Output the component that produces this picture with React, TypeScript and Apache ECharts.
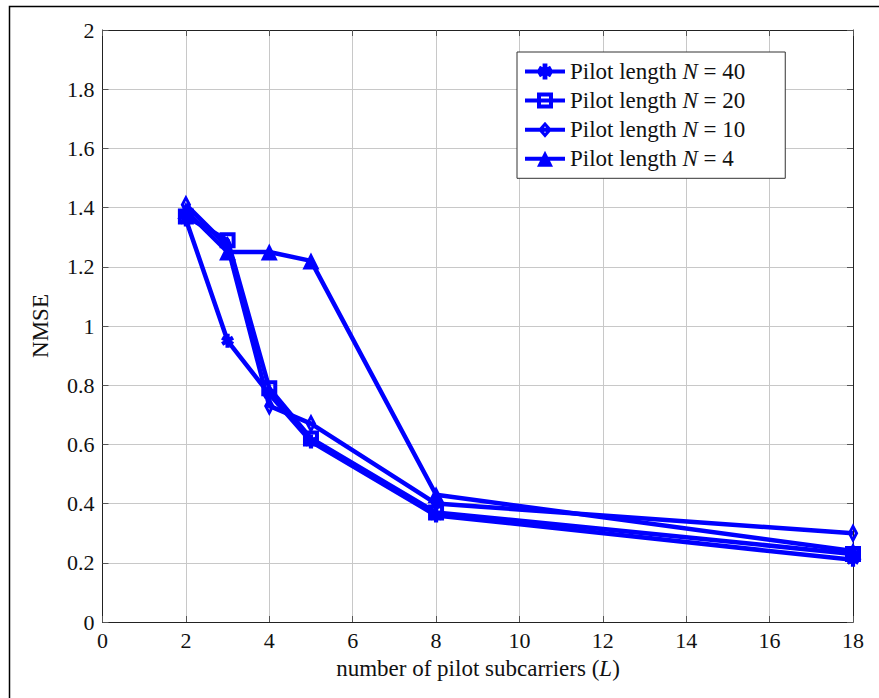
import React, { useEffect, useRef } from "react";
import * as echarts from "echarts";

// Number of pilot subcarriers (L) on the x axis
const pilotSubcarriers = [2, 3, 4, 5, 8, 18];

// NMSE for each pilot length N
const nmseN40 = [1.36, 0.95, 0.77, 0.61, 0.36, 0.21];
const nmseN20 = [1.37, 1.29, 0.79, 0.62, 0.37, 0.23];
const nmseN10 = [1.41, 1.27, 0.73, 0.67, 0.4, 0.3];
const nmseN4 = [1.39, 1.25, 1.25, 1.22, 0.43, 0.24];

const pilotLengths = [40, 20, 10, 4];

// Axis ranges and tick spacing
const xMin = 0;
const xMax = 18;
const xStep = 2;
const yMin = 0;
const yMax = 2;
const yStep = 0.2;

const FONT = "Liberation Serif";
const FS = 22;
const FS_NAME = 23;
const BLUE = "#0000ff";

// Plot markers (hollow square / hollow diamond let the line show inside)
const ASTERISK =
  "path://M7,0 L13,0 L13,20 L7,20 Z M0.71,8.1 L3.71,2.9 L19.29,11.9 L16.29,17.1 Z M0.71,11.9 L16.29,2.9 L19.29,8.1 L3.71,17.1 Z";
const HOLLOW_SQUARE = "path://M0,0 L16,0 L16,16 L0,16 Z M4,4 L4,12 L12,12 L12,4 Z";
const HOLLOW_DIAMOND = "path://M7,0 L14,10 L7,20 L0,10 Z M7,6 L4.6,10 L7,14 L9.4,10 Z";

// Legend icons: a thick line segment with the marker on top (40 x 16 box)
const BAR = "M0,6 L40,6 L40,10 L0,10 Z";
const LEGEND_ICONS = [
  `path://${BAR} M17.6,0 L22.4,0 L22.4,16 L17.6,16 Z M12.57,6.48 L14.97,2.32 L27.43,9.52 L25.03,13.68 Z M12.57,9.52 L25.03,2.32 L27.43,6.48 L14.97,13.68 Z`,
  `path://${BAR} M12,0 L28,0 L28,16 L12,16 Z M16,4 L16,12 L24,12 L24,4 Z`,
  `path://${BAR} M20,0 L27,8 L20,16 L13,8 Z M20,4.5 L17.8,8 L20,11.5 L22.2,8 Z`,
  `path://${BAR} M20,0 L28,16 L12,16 Z`,
];

const seriesData = [nmseN40, nmseN20, nmseN10, nmseN4];
const symbols = [ASTERISK, HOLLOW_SQUARE, HOLLOW_DIAMOND, "triangle"];
const symbolSizes: (number | number[])[] = [14, 16, [15, 20], 17];

const nameOf = (n: number) => `Pilot length N = ${n}`;

export default function App() {
  const ref = useRef<HTMLDivElement>(null);

  useEffect(() => {
    if (!ref.current) return;
    const chart = echarts.init(ref.current, undefined, { renderer: "svg" });

    const tickStyle = { show: true, inside: true, length: 6, lineStyle: { color: "#555", width: 1 } };
    const frameLine = { show: true, onZero: false, lineStyle: { color: "#222", width: 1 } };
    const gridLine = { show: true, lineStyle: { color: "#c8c8c8", width: 1 } };
    const labelStyle = { fontFamily: FONT, fontSize: FS, color: "#111" };

    const series = pilotLengths.map((n, i) => ({
      name: nameOf(n),
      type: "line",
      xAxisIndex: 0,
      yAxisIndex: 0,
      data: pilotSubcarriers.map((x, j) => [x, seriesData[i][j]]),
      symbol: symbols[i],
      symbolSize: symbolSizes[i],
      symbolKeepAspect: true,
      showAllSymbol: true,
      lineStyle: { color: BLUE, width: 4.5 },
      itemStyle: { color: BLUE, borderWidth: 0, opacity: 1 },
      z: 2 + i,
    }));

    chart.setOption({
      animation: false,
      backgroundColor: "#fff",
      grid: { left: 102.5, top: 30, right: 26, bottom: 76, containLabel: false },
      xAxis: [
        {
          type: "value",
          min: xMin,
          max: xMax,
          interval: xStep,
          position: "bottom",
          axisLine: frameLine,
          axisTick: tickStyle,
          axisLabel: { ...labelStyle, margin: 7 },
          splitLine: gridLine,
        },
        {
          type: "value",
          min: xMin,
          max: xMax,
          interval: xStep,
          position: "top",
          axisLine: frameLine,
          axisTick: tickStyle,
          axisLabel: { show: false },
          splitLine: { show: false },
        },
      ],
      yAxis: [
        {
          type: "value",
          min: yMin,
          max: yMax,
          interval: yStep,
          position: "left",
          axisLine: frameLine,
          axisTick: tickStyle,
          axisLabel: { ...labelStyle, margin: 8 },
          splitLine: gridLine,
        },
        {
          type: "value",
          min: yMin,
          max: yMax,
          interval: yStep,
          position: "right",
          axisLine: frameLine,
          axisTick: tickStyle,
          axisLabel: { show: false },
          splitLine: { show: false },
        },
      ],
      legend: {
        orient: "vertical",
        left: 517,
        top: 52,
        padding: [8, 40, 8, 8],
        itemWidth: 40,
        itemHeight: 16,
        itemGap: 6.1,
        borderColor: "#333",
        borderWidth: 1,
        backgroundColor: "#fff",
        data: pilotLengths.map((n, i) => ({
          name: nameOf(n),
          icon: LEGEND_ICONS[i],
          itemStyle: { color: BLUE, borderWidth: 0 },
        })),
        formatter: (name: string) => {
          const n = name.split("= ")[1];
          return `{a|Pilot length }{i|N}{a| = ${n}}`;
        },
        textStyle: {
          fontFamily: FONT,
          fontSize: FS_NAME,
          color: "#111",
          rich: {
            a: { fontFamily: FONT, fontSize: FS_NAME, lineHeight: 24, color: "#111" },
            i: { fontFamily: FONT, fontSize: FS_NAME, lineHeight: 24, fontStyle: "italic", color: "#111" },
          },
        },
      },
      graphic: [
        {
          type: "rect",
          silent: true,
          shape: { x: 9.5, y: 6.5, width: 900, height: 720 },
          style: { fill: "none", stroke: "#000", lineWidth: 1.5 },
          z: 100,
        },
        {
          type: "text",
          x: 478,
          y: 668,
          style: {
            text: "{a|number of pilot subcarriers (}{i|L}{a|)}",
            align: "center",
            verticalAlign: "middle",
            rich: {
              a: { fontFamily: FONT, fontSize: FS_NAME, fill: "#111" },
              i: { fontFamily: FONT, fontSize: FS_NAME, fontStyle: "italic", fill: "#111" },
            },
          },
        },
        {
          type: "text",
          x: 40,
          y: 326,
          rotation: Math.PI / 2,
          style: {
            text: "NMSE",
            align: "center",
            verticalAlign: "middle",
            fontFamily: FONT,
            fontSize: FS_NAME,
            fill: "#111",
          },
        },
      ],
      series,
    });

    return () => chart.dispose();
  }, []);

  return (
    <div
      ref={ref}
      style={{ position: "fixed", left: 0, top: 0, width: 879, height: 698 }}
    />
  );
}
